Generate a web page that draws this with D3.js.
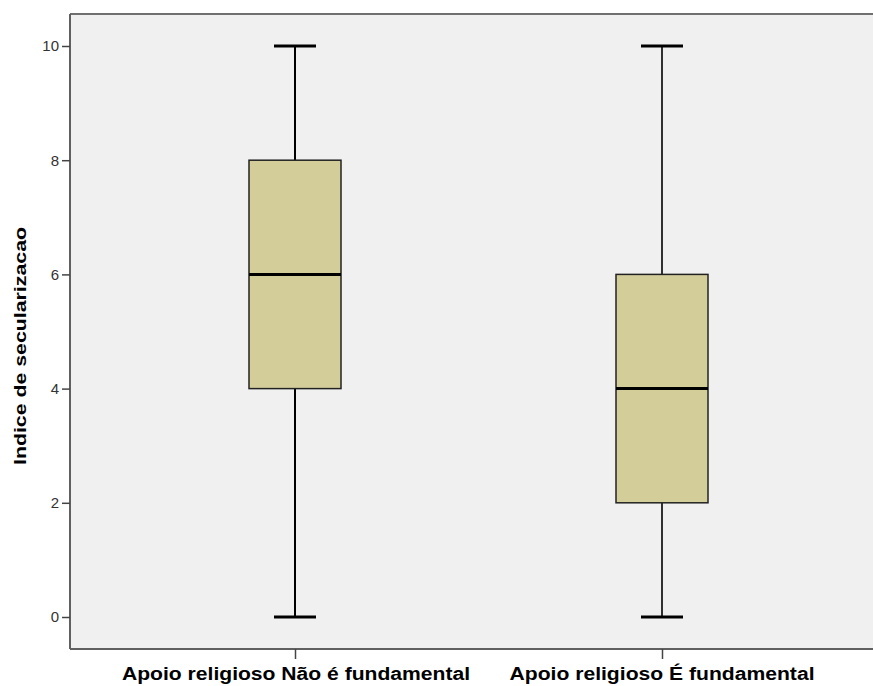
<!DOCTYPE html>
<html><head><meta charset="utf-8">
<script src="https://cdn.jsdelivr.net/npm/d3@7"></script>
<style>body{margin:0;background:#fff}svg{display:block}</style>
</head><body>
<svg id="c" width="873" height="686"></svg>
<script>
const categories = ["Apoio religioso Não é fundamental", "Apoio religioso É fundamental"];
const whiskerLow = [0, 0];
const q1 = [4, 2];
const median = [6, 4];
const q3 = [8, 6];
const whiskerHigh = [10, 10];
const yTicks = [0, 2, 4, 6, 8, 10];
const yTitle = "Indice de secularizacao";

(function () {
const svg = d3.select("#c");
const mLeft = 70, mTop = 14, mBottom = 649, mRight = 880;
const y = d3.scaleLinear().domain([0, 10]).range([617, 46]);
const x = d3.scalePoint().domain(categories).range([295, 662]);

svg.append("rect").attr("x", mLeft).attr("y", mTop).attr("width", mRight - mLeft).attr("height", mBottom - mTop)
  .attr("fill", "#f0f0f0");

const boxW = 92, capW = 42;
const whiskerW = [2, 1.6];
const data = categories.map((c, i) => ({c, i, lo: whiskerLow[i], q1: q1[i], med: median[i], q3: q3[i], hi: whiskerHigh[i]}));
const g = svg.append("g");
data.forEach(d => {
  const cx = x(d.c);
  g.append("line").attr("x1", cx).attr("x2", cx).attr("y1", y(d.hi)).attr("y2", y(d.q3)).attr("stroke", "#000").attr("stroke-width", whiskerW[d.i]);
  g.append("line").attr("x1", cx).attr("x2", cx).attr("y1", y(d.q1)).attr("y2", y(d.lo)).attr("stroke", "#000").attr("stroke-width", whiskerW[d.i]);
  g.append("line").attr("x1", cx - capW/2).attr("x2", cx + capW/2).attr("y1", y(d.hi)).attr("y2", y(d.hi)).attr("stroke", "#000").attr("stroke-width", 3);
  g.append("line").attr("x1", cx - capW/2).attr("x2", cx + capW/2).attr("y1", y(d.lo)).attr("y2", y(d.lo)).attr("stroke", "#000").attr("stroke-width", 3);
  g.append("rect").attr("x", cx - boxW/2).attr("y", y(d.q3)).attr("width", boxW).attr("height", y(d.q1) - y(d.q3))
    .attr("fill", "#d3ce99").attr("stroke", "#222").attr("stroke-width", 1.5);
  g.append("line").attr("x1", cx - boxW/2).attr("x2", cx + boxW/2).attr("y1", y(d.med)).attr("y2", y(d.med)).attr("stroke", "#000").attr("stroke-width", 3);
});

svg.append("line").attr("x1", mLeft).attr("x2", mRight).attr("y1", mTop).attr("y2", mTop).attr("stroke", "#707070").attr("stroke-width", 2);
svg.append("line").attr("x1", mLeft).attr("x2", mRight).attr("y1", mBottom).attr("y2", mBottom).attr("stroke", "#606060").attr("stroke-width", 2);

const yAxis = svg.append("g").attr("transform", `translate(${mLeft},0)`)
  .call(d3.axisLeft(y).tickValues(yTicks).tickSize(8).tickPadding(3).tickFormat(d3.format("d")));
yAxis.select(".domain").attr("d", `M0,${mTop}V${mBottom}`).attr("stroke", "#606060").attr("stroke-width", 2);
yAxis.selectAll(".tick line").attr("stroke", "#444").attr("stroke-width", 1.5);
yAxis.selectAll(".tick text").attr("font-family", "Liberation Sans, Arial, sans-serif").attr("font-size", 15).attr("fill", "#333");

const xAxis = svg.append("g").attr("transform", `translate(0,${mBottom})`)
  .call(d3.axisBottom(x).tickSize(10).tickFormat(""));
xAxis.select(".domain").remove();
xAxis.selectAll(".tick line").attr("stroke", "#444").attr("stroke-width", 1.5);

const labelX = [296, 662];
const labelW = [348, 305];
categories.forEach((c, i) => {
  svg.append("text").attr("x", labelX[i]).attr("y", 680).attr("text-anchor", "middle")
    .attr("font-family", "Liberation Sans, Arial, sans-serif").attr("font-weight", "bold").attr("font-size", 18)
    .attr("textLength", labelW[i]).attr("lengthAdjust", "spacingAndGlyphs").attr("fill", "#000").text(c);
});

svg.append("text").attr("transform", "translate(26,346) rotate(-90)").attr("text-anchor", "middle")
  .attr("font-family", "Liberation Sans, Arial, sans-serif").attr("font-weight", "bold").attr("font-size", 17)
  .attr("textLength", 238).attr("lengthAdjust", "spacingAndGlyphs")
  .attr("fill", "#000").text(yTitle);
})();
</script>
</body></html>
